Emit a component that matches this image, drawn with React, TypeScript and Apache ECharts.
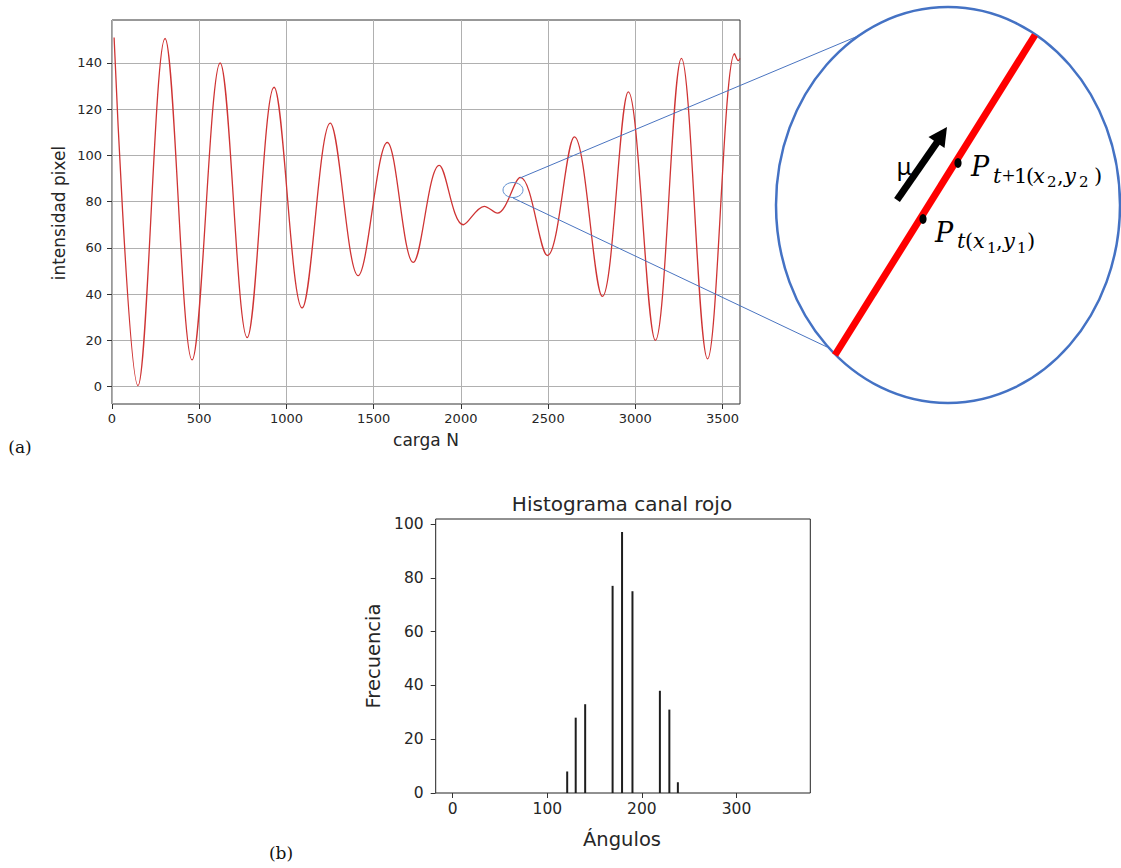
import React, { useEffect, useRef } from "react";
import * as echarts from "echarts";

// Upper panel: pixel intensity against applied load (peaks and troughs of the fringe signal)
const cargaN = [12, 149, 304, 459, 620, 775, 929, 1090, 1251, 1411, 1578, 1727, 1876, 2014, 2134, 2209, 2341, 2496, 2651, 2811, 2960, 3115, 3264, 3414, 3569, 3590, 3600];
const intensidad = [151, 0.4, 150.6, 11.5, 140, 21.2, 129.5, 34, 114, 48, 105.6, 53.7, 95.7, 70, 78, 75, 90.5, 56.7, 108, 39, 127.5, 20, 142, 12, 144, 141, 142];
const cargaTicks = [0, 500, 1000, 1500, 2000, 2500, 3000, 3500];
const intensidadTicks = [0, 20, 40, 60, 80, 100, 120, 140];

// Lower panel: red-channel histogram of angles
const angulos = [121, 130, 140, 169, 179, 190, 219, 229, 238];
const frecuencia = [8, 28, 33, 77, 97, 75, 38, 31, 4];
const anguloTicks = [0, 100, 200, 300];
const frecuenciaTicks = [0, 20, 40, 60, 80, 100];

const SANS = "DejaVu Sans";
const MATH = "DejaVu Serif";
const INK = "#262626";

type Piece = { t: string; x: number; y: number; size: number; italic?: boolean; font?: string };

// Subscripted point labels, laid out piece by piece
const labelTop: Piece[] = [
  { t: "P", x: 971, y: 166.5, size: 27, italic: true },
  { t: "t", x: 993, y: 175.5, size: 21, italic: true },
  { t: "+", x: 1002, y: 175, size: 23, font: "Liberation Serif" },
  { t: "1", x: 1014, y: 175.5, size: 21 },
  { t: "(", x: 1026, y: 175.5, size: 21 },
  { t: "x", x: 1033, y: 175.5, size: 21, italic: true },
  { t: "2", x: 1047, y: 181.5, size: 15 },
  { t: ",", x: 1057, y: 175.5, size: 21 },
  { t: "y", x: 1064, y: 175.5, size: 21, italic: true },
  { t: "2", x: 1079, y: 181.5, size: 15 },
  { t: ")", x: 1094, y: 175.5, size: 21 },
];
const labelBottom: Piece[] = [
  { t: "P", x: 935, y: 232.5, size: 27, italic: true },
  { t: "t", x: 957, y: 240.5, size: 21, italic: true },
  { t: "(", x: 965, y: 240.5, size: 21 },
  { t: "x", x: 973, y: 240.5, size: 21, italic: true },
  { t: "1", x: 987, y: 247.5, size: 15 },
  { t: ",", x: 996, y: 240.5, size: 21 },
  { t: "y", x: 1003, y: 240.5, size: 21, italic: true },
  { t: "1", x: 1017, y: 247.5, size: 15 },
  { t: ")", x: 1027, y: 240.5, size: 21 },
];

function pieceText(p: Piece) {
  return {
    type: "text",
    x: p.x,
    y: p.y,
    z: 20,
    style: {
      text: p.t,
      fontFamily: p.font || MATH,
      fontSize: p.size,
      fontStyle: p.italic ? "italic" : "normal",
      fill: "#000",
      align: "left",
      verticalAlign: "middle",
    },
  };
}

function plainText(text: string, x: number, y: number, size: number, opts: any = {}) {
  return {
    type: "text",
    x,
    y,
    z: 20,
    rotation: opts.rotation || 0,
    style: {
      text,
      fontFamily: opts.fontFamily || SANS,
      fontSize: size,
      fill: opts.fill || INK,
      align: "center",
      verticalAlign: "middle",
    },
  };
}

export default function App() {
  const ref = useRef<HTMLDivElement>(null);

  useEffect(() => {
    if (!ref.current) return;
    const chart = echarts.init(ref.current, undefined, { renderer: "svg" });

    const lineData = cargaN.map((x, i) => [x, intensidad[i]]);
    const barData = angulos.map((x, i) => [x, frecuencia[i]]);

    const tickLabel = (size: number, margin: number, values: number[]) => ({
      customValues: values,
      margin,
      fontSize: size,
      fontFamily: SANS,
      color: INK,
      formatter: (v: number) => String(v),
    });
    const tick = (values: number[], length: number) => ({
      show: true,
      customValues: values,
      length,
      lineStyle: { color: "#333", width: 1 },
    });
    const hiddenLine = { show: false, onZero: false };

    const option: any = {
      animation: false,
      backgroundColor: "#fff",
      grid: [
        { left: 112, top: 20, width: 628, height: 384, show: true, borderColor: "#333", borderWidth: 1, backgroundColor: "transparent" },
        { left: 435.7, top: 519, width: 374.6, height: 274, show: true, borderColor: "#222", borderWidth: 1, backgroundColor: "transparent" },
      ],
      xAxis: [
        {
          gridIndex: 0, type: "value", min: 0, max: 3600,
          axisLine: hiddenLine,
          axisTick: tick(cargaTicks, 5),
          axisLabel: tickLabel(13, 8, cargaTicks),
          splitLine: { show: true, lineStyle: { color: "#b0b0b0", width: 1 } },
        },
        {
          gridIndex: 1, type: "value", min: -18, max: 378,
          axisLine: hiddenLine,
          axisTick: tick(anguloTicks, 5),
          axisLabel: tickLabel(15.5, 8, anguloTicks),
          splitLine: { show: false },
        },
      ],
      yAxis: [
        {
          gridIndex: 0, type: "value", min: -7.55, max: 158.6,
          axisLine: hiddenLine,
          axisTick: tick(intensidadTicks, 5),
          axisLabel: tickLabel(13, 10, intensidadTicks),
          splitLine: { show: true, lineStyle: { color: "#b0b0b0", width: 1 } },
        },
        {
          gridIndex: 1, type: "value", min: 0, max: 101.85,
          axisLine: hiddenLine,
          axisTick: tick(frecuenciaTicks, 5),
          axisLabel: tickLabel(15.5, 12, frecuenciaTicks),
          splitLine: { show: false },
        },
      ],
      series: [
        {
          type: "line",
          xAxisIndex: 0,
          yAxisIndex: 0,
          data: lineData,
          smooth: 0.36,
          showSymbol: false,
          symbol: "none",
          lineStyle: { color: "#cf3434", width: 1.3 },
          silent: true,
        },
        {
          type: "bar",
          xAxisIndex: 1,
          yAxisIndex: 1,
          data: barData,
          barWidth: 2,
          itemStyle: { color: "#1e1e1e" },
          silent: true,
        },
      ],
      graphic: [
        // axis titles and panel captions
        plainText("intensidad pixel", 59, 213, 17, { rotation: Math.PI / 2 }),
        plainText("carga N", 426, 440, 17),
        plainText("Histograma canal rojo", 622, 504, 20),
        plainText("Frecuencia", 373, 656, 19.5, { rotation: Math.PI / 2 }),
        plainText("Ángulos", 622, 839, 19.5),
        plainText("(a)", 20, 447, 17, { fontFamily: "DejaVu Serif", fill: "#111" }),
        plainText("(b)", 281, 853, 17, { fontFamily: "DejaVu Serif", fill: "#111" }),

        // magnifier: small ring on the curve and the lines to the enlarged view
        { type: "ellipse", z: 15, shape: { cx: 513, cy: 190, rx: 10, ry: 7.5 }, style: { fill: "none", stroke: "#5f8fcf", lineWidth: 1 } },
        { type: "line", z: 15, shape: { x1: 520, y1: 178, x2: 858, y2: 36 }, style: { stroke: "#4a74c0", lineWidth: 1 } },
        { type: "line", z: 15, shape: { x1: 513, y1: 198, x2: 827, y2: 347 }, style: { stroke: "#4a74c0", lineWidth: 1 } },
        { type: "ellipse", z: 15, shape: { cx: 948, cy: 205, rx: 172, ry: 198 }, style: { fill: "none", stroke: "#4472c4", lineWidth: 2.5 } },

        // enlarged fringe segment
        { type: "line", z: 16, shape: { x1: 835, y1: 355, x2: 1035, y2: 35 }, style: { stroke: "#ff0000", lineWidth: 7 } },
        { type: "ellipse", z: 17, shape: { cx: 958, cy: 163, rx: 3.6, ry: 5 }, style: { fill: "#000" } },
        { type: "ellipse", z: 17, shape: { cx: 923, cy: 219, rx: 3.6, ry: 5 }, style: { fill: "#000" } },

        // direction arrow
        { type: "line", z: 17, shape: { x1: 897, y1: 200, x2: 938, y2: 141 }, style: { stroke: "#000", lineWidth: 7 } },
        { type: "polygon", z: 17, shape: { points: [[947, 127], [944.5, 148], [928.5, 137]] }, style: { fill: "#000" } },
        plainText("μ", 904, 165, 24, { fontFamily: "Noto Sans", fill: "#000" }),

        ...labelTop.map(pieceText),
        ...labelBottom.map(pieceText),
      ],
    };

    chart.setOption(option);
    return () => chart.dispose();
  }, []);

  return (
    <div
      ref={ref}
      style={{ position: "absolute", left: 0, top: 0, width: 1121, height: 868 }}
    />
  );
}
